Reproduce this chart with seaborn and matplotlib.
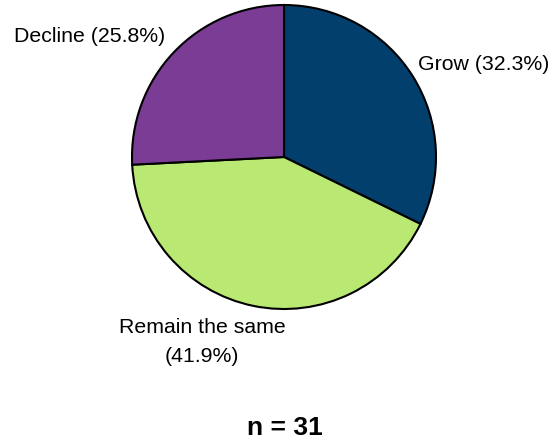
import matplotlib
matplotlib.use("Agg")
import matplotlib.pyplot as plt
import seaborn as sns

# Survey responses: expected change
categories = ["Grow", "Remain the same", "Decline"]
counts = [10, 13, 8]
colors = ["#023F6D", "#B9E972", "#7A3C95"]

sns.set_theme(style="white")
plt.rcParams["font.family"] = ["Liberation Sans", "DejaVu Sans"]

W, H = 550, 440
fig = plt.figure(figsize=(W / 100, H / 100), dpi=100)

# Pie axes: centre (284, 157) px, radius 152 px, with a small margin
cx, cy, r, pad = 284, 157, 152, 1.1
half = r * pad
ax = fig.add_axes([(cx - half) / W, (H - cy - half) / H, 2 * half / W, 2 * half / H])

total = sum(counts)
ax.pie(counts, colors=colors, startangle=90, counterclock=False,
       wedgeprops=dict(edgecolor="black", linewidth=1.5))
ax.set_xlim(-pad, pad)
ax.set_ylim(-pad, pad)
ax.set_aspect("auto")
ax.axis("off")

pct = [100 * c / total for c in counts]
fs = 15.3


def fx(x):
    return x / W


def fy(y):
    return 1 - y / H


fig.text(fx(418), fy(70), f"{categories[0]} ({pct[0]:.1f}%)", fontsize=fs,
         ha="left", va="baseline", color="black")
fig.text(fx(14), fy(42), f"{categories[2]} ({pct[2]:.1f}%)", fontsize=fs,
         ha="left", va="baseline", color="black")
fig.text(fx(202), fy(333), categories[1], fontsize=fs,
         ha="center", va="baseline", color="black")
fig.text(fx(202), fy(362), f"({pct[1]:.1f}%)", fontsize=fs,
         ha="center", va="baseline", color="black")

fig.text(fx(285), fy(435), f"n = {total}", fontsize=19, fontweight="bold",
         ha="center", va="baseline", color="black")

fig.savefig("out.png", dpi=100, facecolor="white")
